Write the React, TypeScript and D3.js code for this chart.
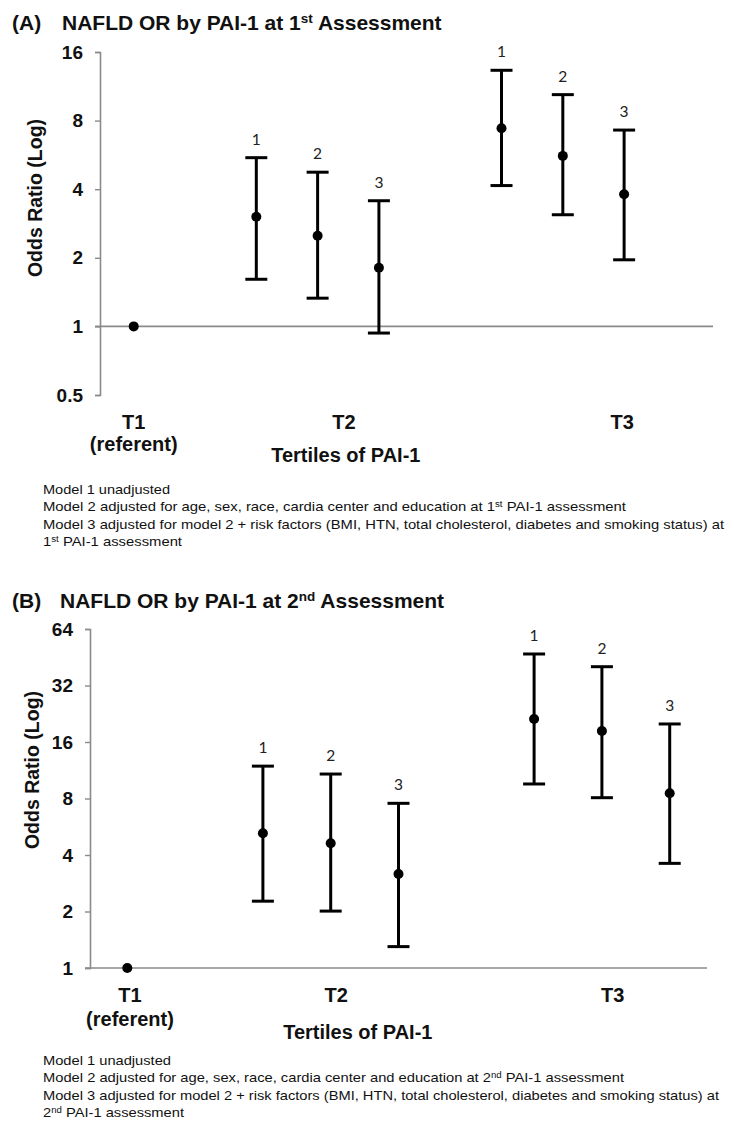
import React from 'react';
import * as d3 from 'd3';

// x slot of every estimate (T1 referent, T2 models 1-3, T3 models 1-3)
const slots = [0.55, 2.55, 3.55, 4.55, 6.55, 7.55, 8.55];
const modelLabels = ['', '1', '2', '3', '1', '2', '3'];
const categories = ['T1', 'T2', 'T3'];

// (A) 1st assessment
const pointA = [1, 3.03, 2.5, 1.81, 7.4, 5.6, 3.8];
const lowerA = [null, 1.61, 1.33, 0.935, 4.15, 3.09, 1.96];
const upperA = [null, 5.5, 4.75, 3.56, 13.3, 10.4, 7.27];
const ticksA = [0.5, 1, 2, 4, 8, 16];

// (B) 2nd assessment
const pointB = [1, 5.22, 4.62, 3.17, 21.2, 18.3, 8.53];
const lowerB = [null, 2.27, 2.01, 1.3, 9.56, 8.08, 3.61];
const upperB = [null, 11.9, 10.8, 7.54, 47.1, 40.3, 19.96];
const ticksB = [1, 2, 4, 8, 16, 32, 64];

const notesA = [
    ['Model 1 unadjusted'],
    ['Model 2 adjusted for age, sex, race, cardia center and education at 1', 'st', ' PAI-1 assessment'],
    ['Model 3 adjusted for model 2 + risk factors (BMI, HTN, total cholesterol, diabetes and smoking status) at'],
    ['1', 'st', ' PAI-1 assessment'],
];
const notesB = [
    ['Model 1 unadjusted'],
    ['Model 2 adjusted for age, sex, race, cardia center and education at 2', 'nd', ' PAI-1 assessment'],
    ['Model 3 adjusted for model 2 + risk factors (BMI, HTN, total cholesterol, diabetes and smoking status) at'],
    ['2', 'nd', ' PAI-1 assessment'],
];

const SANS = '"Liberation Sans", Arial, sans-serif';
const NARROW = '"Liberation Sans Narrow", "Arial Narrow", "Liberation Sans", sans-serif';
const AXIS = '#8a8a8a';

const drawPanel = (svg, p) => {
    const g = svg.append('g');

    // title
    const title = g.append('text')
        .attr('x', 12).attr('y', p.titleY)
        .attr('font-family', SANS).attr('font-weight', 'bold').attr('font-size', 21)
        .attr('fill', '#111');
    title.append('tspan').text('(' + p.letter + ')');
    title.append('tspan').attr('x', p.titleX).text('NAFLD OR by PAI-1 at ' + p.ordinal[0]);
    title.append('tspan').attr('dy', -7).attr('font-size', 13.5).text(p.ordinal[1]);
    title.append('tspan').attr('dy', 7).text(' Assessment');

    const x = d3.scaleLinear().domain([0, p.xMax]).range([p.left, p.right]);
    const y = d3.scaleLog().base(2).domain(p.yDomain).range([p.bottom, p.top]);

    // y axis
    const yAxis = g.append('g')
        .attr('transform', 'translate(' + p.left + ',0)')
        .call(d3.axisLeft(y).tickValues(p.ticks).tickSize(5).tickPadding(12).tickFormat(d3.format('')));
    yAxis.select('.domain').attr('stroke', AXIS).attr('stroke-width', 1.6);
    yAxis.selectAll('.tick line').attr('stroke', AXIS).attr('stroke-width', 1.4);
    yAxis.selectAll('.tick text')
        .attr('font-family', SANS).attr('font-weight', 'bold').attr('font-size', 19).attr('fill', '#111');

    // horizontal category axis crossing at 1
    g.append('line')
        .attr('x1', p.left - 5).attr('x2', p.right)
        .attr('y1', y(1)).attr('y2', y(1))
        .attr('stroke', AXIS).attr('stroke-width', 1.6);

    g.append('text')
        .attr('transform', 'translate(' + p.yTitleX + ',' + p.yTitleY + ') rotate(-90)')
        .attr('text-anchor', 'middle')
        .attr('font-family', SANS).attr('font-weight', 'bold').attr('font-size', 19.5).attr('fill', '#111')
        .text('Odds Ratio (Log)');

    // category labels
    categories.forEach((c, i) => {
        g.append('text')
            .attr('x', x(p.catPos[i])).attr('y', p.catY)
            .attr('text-anchor', 'middle')
            .attr('font-family', SANS).attr('font-weight', 'bold').attr('font-size', 20).attr('fill', '#111')
            .text(c);
    });
    g.append('text')
        .attr('x', x(p.catPos[0])).attr('y', p.refY)
        .attr('text-anchor', 'middle')
        .attr('font-family', SANS).attr('font-weight', 'bold').attr('font-size', 20).attr('fill', '#111')
        .text('(referent)');
    g.append('text')
        .attr('x', x(p.xTitlePos)).attr('y', p.xTitleY)
        .attr('text-anchor', 'middle')
        .attr('font-family', SANS).attr('font-weight', 'bold').attr('font-size', 20).attr('fill', '#111')
        .text('Tertiles of PAI-1');

    // error bars
    const rows = slots.map((s, i) => ({ s, v: p.point[i], lo: p.lower[i], hi: p.upper[i], m: modelLabels[i] }));
    const bars = rows.filter(d => d.lo !== null);
    const cap = 11;

    g.selectAll('.whisker').data(bars).enter().append('line')
        .attr('x1', d => x(d.s)).attr('x2', d => x(d.s))
        .attr('y1', d => y(d.lo)).attr('y2', d => y(d.hi))
        .attr('stroke', '#000').attr('stroke-width', 3);
    g.selectAll('.capHi').data(bars).enter().append('line')
        .attr('x1', d => x(d.s) - cap).attr('x2', d => x(d.s) + cap)
        .attr('y1', d => y(d.hi)).attr('y2', d => y(d.hi))
        .attr('stroke', '#000').attr('stroke-width', 3);
    g.selectAll('.capLo').data(bars).enter().append('line')
        .attr('x1', d => x(d.s) - cap).attr('x2', d => x(d.s) + cap)
        .attr('y1', d => y(d.lo)).attr('y2', d => y(d.lo))
        .attr('stroke', '#000').attr('stroke-width', 3);
    g.selectAll('.model').data(bars).enter().append('text')
        .attr('x', d => x(d.s)).attr('y', d => y(d.hi) - 13)
        .attr('text-anchor', 'middle')
        .attr('font-family', 'Lato, "Open Sans", sans-serif').attr('font-size', 15.5).attr('fill', '#222')
        .text(d => d.m);

    g.selectAll('.dot').data(rows).enter().append('circle')
        .attr('cx', d => x(d.s)).attr('cy', d => y(d.v))
        .attr('r', 5).attr('fill', '#000');

    // model notes
    p.notes.forEach((parts, i) => {
        const t = g.append('text')
            .attr('x', 43).attr('y', p.notesY + i * 17.3)
            .attr('font-family', NARROW).attr('font-size', 13).attr('fill', '#111')
            .attr('textLength', p.noteLen[i]).attr('lengthAdjust', 'spacingAndGlyphs');
        parts.forEach((s, j) => {
            const sp = t.append('tspan').text(s);
            if (j === 1) sp.attr('dy', -4).attr('font-size', 8.5);
            if (j === 2) sp.attr('dy', 4);
        });
    });
};

const panels = [
    {
        letter: 'A', ordinal: ['1', 'st'], titleX: 62, titleY: 30,
        point: pointA, lower: lowerA, upper: upperA, ticks: ticksA,
        yDomain: [0.5, 16], top: 52, bottom: 395,
        xMax: 10, left: 100, right: 713,
        yTitleX: 42, yTitleY: 198,
        catPos: [0.55, 3.98, 8.52], catY: 429, refY: 451,
        xTitlePos: 4.01, xTitleY: 462,
        notes: notesA, notesY: 494, noteLen: [127, 583, 681, 139],
    },
    {
        letter: 'B', ordinal: ['2', 'nd'], titleX: 60, titleY: 608,
        point: pointB, lower: lowerB, upper: upperB, ticks: ticksB,
        yDomain: [1, 64], top: 629, bottom: 968,
        xMax: 9.1, left: 90, right: 707,
        yTitleX: 39, yTitleY: 770,
        catPos: [0.59, 3.63, 7.71], catY: 1002, refY: 1026,
        xTitlePos: 3.95, xTitleY: 1039,
        notes: notesB, notesY: 1065, noteLen: [128, 581, 676, 141],
    },
];

function App() {
    const ref = React.useRef(null);

    React.useEffect(() => {
        const svg = d3.select(ref.current);
        svg.selectAll('*').remove();
        svg.append('rect').attr('width', 734).attr('height', 1121).attr('fill', '#fff');
        panels.forEach(p => drawPanel(svg, p));
    }, []);

    return (
        <svg ref={ref} width={734} height={1121}
            style={{ position: 'absolute', left: 0, top: 0, display: 'block' }} />
    );
}

export default App;
